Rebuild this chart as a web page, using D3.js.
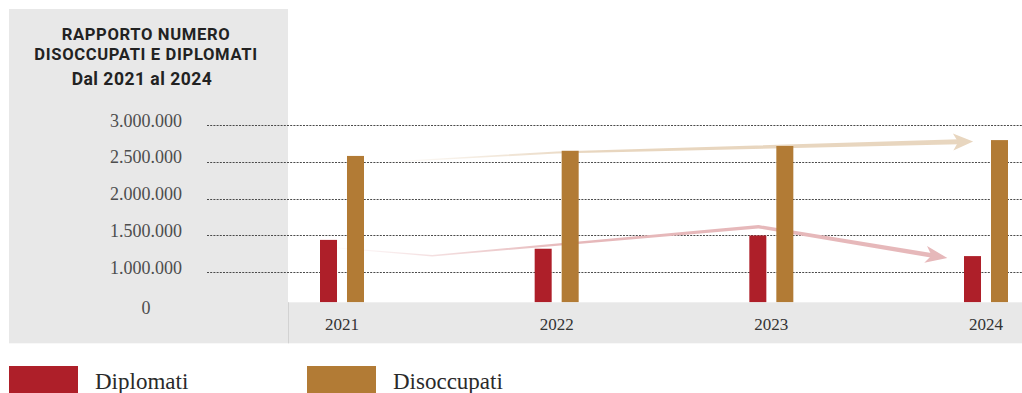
<!DOCTYPE html>
<html>
<head>
<meta charset="utf-8">
<script src="https://cdn.jsdelivr.net/npm/d3@7"></script>
<style>
  html, body { margin: 0; padding: 0; background: #fff; }
  svg { display: block; }
</style>
</head>
<body>
<svg id="chart" width="1022" height="393"></svg>
<script>
// ---- data ----
const years = ["2021", "2022", "2023", "2024"];
const seriesNames = ["Diplomati", "Disoccupati"];
const diplomati = [1440000, 1320000, 1500000, 1220000];
const disoccupati = [2580000, 2650000, 2715000, 2795000];
const yTicks = [0, 1000000, 1500000, 2000000, 2500000, 3000000];
const seriesColors = ["#ae1f29", "#b27b35"];
const titleLines = ["RAPPORTO NUMERO", "DISOCCUPATI E DIPLOMATI", "Dal 2021 al 2024"];

// trend arrows: [year position, value]
const trendDiplomati = [[2020.98, 1330000], [2021.42, 1225000], [2022.94, 1619000], [2023.82, 1194000]];
const trendDisoccupati = [[2021.22, 2498000], [2022.0, 2627000], [2023.94, 2776000]];

// ---- scales ----
const svg = d3.select("#chart");
const W = 1022, H = 393;
const baseY = 302.3;          // top of the year band
const y = d3.scaleLinear().domain([0, 3000000]).range([345.95, 125]);
const x = d3.scalePoint().domain(years).range([342, 986]);
const xLin = d3.scaleLinear().domain([2021, 2024]).range([342, 986]);
const sub = d3.scaleBand().domain(seriesNames).range([-22, 22]).paddingInner(0.37);
const color = d3.scaleOrdinal().domain(seriesNames).range(seriesColors);
const it = d3.formatLocale({ decimal: ",", thousands: ".", grouping: [3], currency: ["€", ""] });
const fmt = it.format(",d");

const rows = years.map((yr, i) => ({ year: yr, values: [
  { key: "Diplomati", value: diplomati[i] },
  { key: "Disoccupati", value: disoccupati[i] }
]}));

// ---- backgrounds ----
svg.append("rect").attr("x", 0).attr("y", 0).attr("width", W).attr("height", H).attr("fill", "#fff");
svg.append("rect").attr("x", 9).attr("y", 9).attr("width", 279).attr("height", 334.3).attr("fill", "#e8e8e8");

// ---- grid lines ----
svg.append("g").selectAll("line")
  .data(yTicks.filter(d => d > 0))
  .join("line")
  .attr("x1", 207).attr("x2", W)
  .attr("y1", d => Math.round(y(d)) + 0.5).attr("y2", d => Math.round(y(d)) + 0.5)
  .attr("stroke", "#4a4a4a").attr("stroke-width", 1)
  .attr("stroke-dasharray", "2,1.2");

// ---- trend arrows ----
const defs = svg.append("defs");
function fadeGradient(id, x0, x1, col) {
  const g = defs.append("linearGradient").attr("id", id)
    .attr("gradientUnits", "userSpaceOnUse")
    .attr("x1", x0).attr("x2", x1).attr("y1", 0).attr("y2", 0);
  g.append("stop").attr("offset", 0).attr("stop-color", col).attr("stop-opacity", 0.05);
  g.append("stop").attr("offset", 1).attr("stop-color", col).attr("stop-opacity", 1);
}

function drawArrow(trend, col, id, w0, w1, headLen, headHalf, notch, fadeLen) {
  const pts = trend.map(([t, v]) => [xLin(t), y(v)]);
  const tip = pts[pts.length - 1];
  const prev = pts[pts.length - 2];
  let dx = tip[0] - prev[0], dy = tip[1] - prev[1];
  const dl = Math.hypot(dx, dy); dx /= dl; dy /= dl;
  const nx = -dy, ny = dx;
  // body ends inside the arrow head
  const bodyEnd = [tip[0] - dx * (headLen - notch - 1), tip[1] - dy * (headLen - notch - 1)];
  const body = pts.slice(0, -1).concat([bodyEnd]);
  // cumulative length for tapering
  const cum = [0];
  for (let i = 1; i < body.length; i++) cum.push(cum[i - 1] + Math.hypot(body[i][0] - body[i - 1][0], body[i][1] - body[i - 1][1]));
  const total = cum[cum.length - 1];
  const left = [], right = [];
  body.forEach((p, i) => {
    const w = (w0 + (w1 - w0) * cum[i] / total) / 2;
    let ax = 0, ay = 0;
    if (i > 0) { const ex = p[0] - body[i - 1][0], ey = p[1] - body[i - 1][1], l = Math.hypot(ex, ey); ax += -ey / l; ay += ex / l; }
    if (i < body.length - 1) { const ex = body[i + 1][0] - p[0], ey = body[i + 1][1] - p[1], l = Math.hypot(ex, ey); ax += -ey / l; ay += ex / l; }
    const al = Math.hypot(ax, ay); ax /= al; ay /= al;
    left.push([p[0] + ax * w, p[1] + ay * w]);
    right.push([p[0] - ax * w, p[1] - ay * w]);
  });
  fadeGradient(id, body[0][0], body[0][0] + fadeLen, col);
  const g = svg.append("g");
  g.append("path")
    .attr("d", d3.line()(left.concat(right.reverse())) + "Z")
    .attr("fill", `url(#${id})`);
  const head = [
    tip,
    [tip[0] - dx * headLen + nx * headHalf, tip[1] - dy * headLen + ny * headHalf],
    [tip[0] - dx * (headLen - notch), tip[1] - dy * (headLen - notch)],
    [tip[0] - dx * headLen - nx * headHalf, tip[1] - dy * headLen - ny * headHalf]
  ];
  g.append("path").attr("d", d3.line()(head) + "Z").attr("fill", col);
}

drawArrow(trendDisoccupati, "#e8d6bf", "fadeDis", 1, 5, 20, 8.5, 5, 200);
drawArrow(trendDiplomati, "#e6b8ba", "fadeDip", 0.8, 4.5, 22, 8.5, 6, 230);

// ---- bars (cut off at the year band) ----
svg.append("g").selectAll("g")
  .data(rows)
  .join("g")
  .attr("transform", d => `translate(${x(d.year)},0)`)
  .selectAll("rect")
  .data(d => d.values)
  .join("rect")
  .attr("x", d => sub(d.key))
  .attr("width", sub.bandwidth())
  .attr("y", d => y(d.value))
  .attr("height", d => baseY - y(d.value))
  .attr("fill", d => color(d.key));

// ---- year band ----
svg.append("rect").attr("x", 288).attr("y", baseY).attr("width", W - 288).attr("height", 343.3 - baseY).attr("fill", "#e8e8e8");
svg.append("line").attr("x1", 288.5).attr("x2", 288.5).attr("y1", baseY).attr("y2", 343.3)
  .attr("stroke", "#d2d2d2").attr("stroke-width", 1);

// ---- x axis labels ----
svg.append("g").selectAll("text")
  .data(years)
  .join("text")
  .attr("x", d => x(d))
  .attr("y", 330)
  .attr("text-anchor", "middle")
  .attr("font-family", "'Liberation Serif', 'DejaVu Serif', serif")
  .attr("font-size", 17)
  .attr("fill", "#333")
  .text(d => d);

// ---- y axis labels ----
svg.append("g").selectAll("text")
  .data(yTicks)
  .join("text")
  .attr("x", d => d === 0 ? 146 : 182)
  .attr("y", d => d === 0 ? 314 : y(d) + 1.5)
  .attr("text-anchor", d => d === 0 ? "middle" : "end")
  .attr("font-family", "'Liberation Serif', 'DejaVu Serif', serif")
  .attr("font-size", 18)
  .attr("fill", "#4d4d4d")
  .text(d => fmt(d));

// ---- title ----
svg.append("g").selectAll("text")
  .data(titleLines)
  .join("text")
  .attr("x", (d, i) => i === 2 ? 142 : 146)
  .attr("y", (d, i) => [40, 60, 85][i])
  .attr("text-anchor", "middle")
  .attr("font-family", "Roboto, 'Open Sans', sans-serif")
  .attr("font-weight", 700)
  .attr("font-size", (d, i) => i === 2 ? 17.5 : 16.6)
  .attr("letter-spacing", (d, i) => i === 2 ? 0.5 : 0.65)
  .attr("fill", "#222")
  .text(d => d);

// ---- legend ----
const legend = svg.append("g").selectAll("g")
  .data(seriesNames)
  .join("g")
  .attr("transform", (d, i) => `translate(${[9, 307][i]},366)`);
legend.append("rect").attr("width", 69).attr("height", 30).attr("fill", d => color(d));
legend.append("text")
  .attr("x", 86).attr("y", 23)
  .attr("font-family", "'Liberation Serif', 'DejaVu Serif', serif")
  .attr("font-size", 23)
  .attr("fill", "#2a2a2a")
  .text(d => d);
</script>
</body>
</html>
